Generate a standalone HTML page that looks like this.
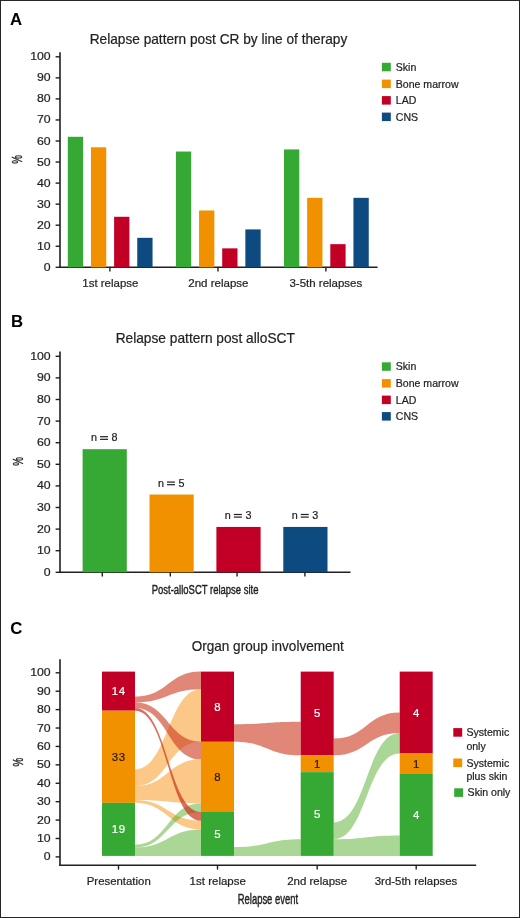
<!DOCTYPE html>
<html><head><meta charset="utf-8"><style>
html,body{margin:0;padding:0;background:#fff;}
body{width:520px;height:918px;overflow:hidden;position:relative;}
.frame{position:absolute;left:0;top:0;width:518px;height:916px;border:1px solid #262626;}
svg{position:absolute;left:0;top:0;will-change:transform;font-family:"Liberation Sans", sans-serif;}
</style></head><body>
<svg width="520" height="918" viewBox="0 0 520 918">
<text x="10.10" y="24.80" font-size="16.8" text-anchor="start" fill="#000" font-weight="bold"  >A</text>
<text x="89.68" y="43.70" font-size="13.9" fill="#231f20" textLength="257.65" lengthAdjust="spacingAndGlyphs" stroke="#231f20" stroke-width="0.22">Relapse pattern post CR by line of therapy</text>
<line x1="60.00" y1="52.20" x2="60.00" y2="268.10" stroke="#231f20" stroke-width="1.6"/>
<line x1="55.60" y1="267.30" x2="60.00" y2="267.30" stroke="#231f20" stroke-width="1.4"/>
<text transform="translate(50.7,270.80) scale(1.09,1)" font-size="11.3" text-anchor="end" fill="#231f20" stroke="#231f20" stroke-width="0.22">0</text>
<line x1="55.60" y1="246.25" x2="60.00" y2="246.25" stroke="#231f20" stroke-width="1.4"/>
<text transform="translate(50.7,249.75) scale(1.09,1)" font-size="11.3" text-anchor="end" fill="#231f20" stroke="#231f20" stroke-width="0.22">10</text>
<line x1="55.60" y1="225.20" x2="60.00" y2="225.20" stroke="#231f20" stroke-width="1.4"/>
<text transform="translate(50.7,228.70) scale(1.09,1)" font-size="11.3" text-anchor="end" fill="#231f20" stroke="#231f20" stroke-width="0.22">20</text>
<line x1="55.60" y1="204.15" x2="60.00" y2="204.15" stroke="#231f20" stroke-width="1.4"/>
<text transform="translate(50.7,207.65) scale(1.09,1)" font-size="11.3" text-anchor="end" fill="#231f20" stroke="#231f20" stroke-width="0.22">30</text>
<line x1="55.60" y1="183.10" x2="60.00" y2="183.10" stroke="#231f20" stroke-width="1.4"/>
<text transform="translate(50.7,186.60) scale(1.09,1)" font-size="11.3" text-anchor="end" fill="#231f20" stroke="#231f20" stroke-width="0.22">40</text>
<line x1="55.60" y1="162.05" x2="60.00" y2="162.05" stroke="#231f20" stroke-width="1.4"/>
<text transform="translate(50.7,165.55) scale(1.09,1)" font-size="11.3" text-anchor="end" fill="#231f20" stroke="#231f20" stroke-width="0.22">50</text>
<line x1="55.60" y1="141.00" x2="60.00" y2="141.00" stroke="#231f20" stroke-width="1.4"/>
<text transform="translate(50.7,144.50) scale(1.09,1)" font-size="11.3" text-anchor="end" fill="#231f20" stroke="#231f20" stroke-width="0.22">60</text>
<line x1="55.60" y1="119.95" x2="60.00" y2="119.95" stroke="#231f20" stroke-width="1.4"/>
<text transform="translate(50.7,123.45) scale(1.09,1)" font-size="11.3" text-anchor="end" fill="#231f20" stroke="#231f20" stroke-width="0.22">70</text>
<line x1="55.60" y1="98.90" x2="60.00" y2="98.90" stroke="#231f20" stroke-width="1.4"/>
<text transform="translate(50.7,102.40) scale(1.09,1)" font-size="11.3" text-anchor="end" fill="#231f20" stroke="#231f20" stroke-width="0.22">80</text>
<line x1="55.60" y1="77.85" x2="60.00" y2="77.85" stroke="#231f20" stroke-width="1.4"/>
<text transform="translate(50.7,81.35) scale(1.09,1)" font-size="11.3" text-anchor="end" fill="#231f20" stroke="#231f20" stroke-width="0.22">90</text>
<line x1="55.60" y1="56.80" x2="60.00" y2="56.80" stroke="#231f20" stroke-width="1.4"/>
<text transform="translate(50.7,60.30) scale(1.09,1)" font-size="11.3" text-anchor="end" fill="#231f20" stroke="#231f20" stroke-width="0.22">100</text>
<line x1="59.20" y1="267.30" x2="377.60" y2="267.30" stroke="#231f20" stroke-width="1.6"/>
<rect x="67.80" y="136.79" width="15.30" height="130.51" fill="#36a935" />
<rect x="90.95" y="147.31" width="15.30" height="119.99" fill="#f29100" />
<rect x="114.10" y="216.78" width="15.30" height="50.52" fill="#c20025" />
<rect x="137.25" y="237.83" width="15.30" height="29.47" fill="#0c4a80" />
<line x1="109.90" y1="267.30" x2="109.90" y2="271.60" stroke="#231f20" stroke-width="1.4"/>
<rect x="175.90" y="151.53" width="15.30" height="115.78" fill="#36a935" />
<rect x="199.05" y="210.47" width="15.30" height="56.84" fill="#f29100" />
<rect x="222.20" y="248.36" width="15.30" height="18.94" fill="#c20025" />
<rect x="245.35" y="229.41" width="15.30" height="37.89" fill="#0c4a80" />
<line x1="218.00" y1="267.30" x2="218.00" y2="271.60" stroke="#231f20" stroke-width="1.4"/>
<rect x="284.00" y="149.42" width="15.30" height="117.88" fill="#36a935" />
<rect x="307.15" y="197.84" width="15.30" height="69.47" fill="#f29100" />
<rect x="330.30" y="244.15" width="15.30" height="23.16" fill="#c20025" />
<rect x="353.45" y="197.84" width="15.30" height="69.47" fill="#0c4a80" />
<line x1="325.90" y1="267.30" x2="325.90" y2="271.60" stroke="#231f20" stroke-width="1.4"/>
<text x="82.33" y="286.80" font-size="11.3" fill="#231f20" textLength="56.08" lengthAdjust="spacingAndGlyphs" stroke="#231f20" stroke-width="0.22">1st relapse</text>
<text x="188.22" y="286.80" font-size="11.3" fill="#231f20" textLength="60.29" lengthAdjust="spacingAndGlyphs" stroke="#231f20" stroke-width="0.22">2nd relapse</text>
<text x="289.46" y="286.80" font-size="11.3" fill="#231f20" textLength="72.75" lengthAdjust="spacingAndGlyphs" stroke="#231f20" stroke-width="0.22">3-5th relapses</text>
<rect x="381.90" y="62.80" width="8.90" height="8.50" fill="#36a935" />
<text x="395.80" y="70.70" font-size="10.55" text-anchor="start" fill="#231f20" font-weight="normal" stroke="#231f20" stroke-width="0.22" >Skin</text>
<rect x="381.90" y="79.60" width="8.90" height="8.50" fill="#f29100" />
<text x="395.80" y="87.50" font-size="10.55" text-anchor="start" fill="#231f20" font-weight="normal" stroke="#231f20" stroke-width="0.22" >Bone marrow</text>
<rect x="381.90" y="96.10" width="8.90" height="8.50" fill="#c20025" />
<text x="395.80" y="104.00" font-size="10.55" text-anchor="start" fill="#231f20" font-weight="normal" stroke="#231f20" stroke-width="0.22" >LAD</text>
<rect x="381.90" y="112.60" width="8.90" height="8.50" fill="#0c4a80" />
<text x="395.80" y="120.50" font-size="10.55" text-anchor="start" fill="#231f20" font-weight="normal" stroke="#231f20" stroke-width="0.22" >CNS</text>
<text transform="translate(22.30,159.50) rotate(-90) scale(0.7,1)" x="0" y="0" font-size="14" text-anchor="middle" fill="#231f20" stroke="#231f20" stroke-width="0.4">%</text>
<text x="10.90" y="326.70" font-size="16.8" text-anchor="start" fill="#000" font-weight="bold"  >B</text>
<text x="115.67" y="343.40" font-size="13.9" fill="#231f20" textLength="179.23" lengthAdjust="spacingAndGlyphs" stroke="#231f20" stroke-width="0.22">Relapse pattern post alloSCT</text>
<line x1="60.00" y1="351.50" x2="60.00" y2="573.10" stroke="#231f20" stroke-width="1.6"/>
<line x1="55.60" y1="572.30" x2="60.00" y2="572.30" stroke="#231f20" stroke-width="1.4"/>
<text transform="translate(50.7,575.80) scale(1.09,1)" font-size="11.3" text-anchor="end" fill="#231f20" stroke="#231f20" stroke-width="0.22">0</text>
<line x1="55.60" y1="550.70" x2="60.00" y2="550.70" stroke="#231f20" stroke-width="1.4"/>
<text transform="translate(50.7,554.20) scale(1.09,1)" font-size="11.3" text-anchor="end" fill="#231f20" stroke="#231f20" stroke-width="0.22">10</text>
<line x1="55.60" y1="529.10" x2="60.00" y2="529.10" stroke="#231f20" stroke-width="1.4"/>
<text transform="translate(50.7,532.60) scale(1.09,1)" font-size="11.3" text-anchor="end" fill="#231f20" stroke="#231f20" stroke-width="0.22">20</text>
<line x1="55.60" y1="507.50" x2="60.00" y2="507.50" stroke="#231f20" stroke-width="1.4"/>
<text transform="translate(50.7,511.00) scale(1.09,1)" font-size="11.3" text-anchor="end" fill="#231f20" stroke="#231f20" stroke-width="0.22">30</text>
<line x1="55.60" y1="485.90" x2="60.00" y2="485.90" stroke="#231f20" stroke-width="1.4"/>
<text transform="translate(50.7,489.40) scale(1.09,1)" font-size="11.3" text-anchor="end" fill="#231f20" stroke="#231f20" stroke-width="0.22">40</text>
<line x1="55.60" y1="464.30" x2="60.00" y2="464.30" stroke="#231f20" stroke-width="1.4"/>
<text transform="translate(50.7,467.80) scale(1.09,1)" font-size="11.3" text-anchor="end" fill="#231f20" stroke="#231f20" stroke-width="0.22">50</text>
<line x1="55.60" y1="442.70" x2="60.00" y2="442.70" stroke="#231f20" stroke-width="1.4"/>
<text transform="translate(50.7,446.20) scale(1.09,1)" font-size="11.3" text-anchor="end" fill="#231f20" stroke="#231f20" stroke-width="0.22">60</text>
<line x1="55.60" y1="421.10" x2="60.00" y2="421.10" stroke="#231f20" stroke-width="1.4"/>
<text transform="translate(50.7,424.60) scale(1.09,1)" font-size="11.3" text-anchor="end" fill="#231f20" stroke="#231f20" stroke-width="0.22">70</text>
<line x1="55.60" y1="399.50" x2="60.00" y2="399.50" stroke="#231f20" stroke-width="1.4"/>
<text transform="translate(50.7,403.00) scale(1.09,1)" font-size="11.3" text-anchor="end" fill="#231f20" stroke="#231f20" stroke-width="0.22">80</text>
<line x1="55.60" y1="377.90" x2="60.00" y2="377.90" stroke="#231f20" stroke-width="1.4"/>
<text transform="translate(50.7,381.40) scale(1.09,1)" font-size="11.3" text-anchor="end" fill="#231f20" stroke="#231f20" stroke-width="0.22">90</text>
<line x1="55.60" y1="356.30" x2="60.00" y2="356.30" stroke="#231f20" stroke-width="1.4"/>
<text transform="translate(50.7,359.80) scale(1.09,1)" font-size="11.3" text-anchor="end" fill="#231f20" stroke="#231f20" stroke-width="0.22">100</text>
<line x1="59.20" y1="572.30" x2="350.50" y2="572.30" stroke="#231f20" stroke-width="1.6"/>
<rect x="82.60" y="449.18" width="44.20" height="123.12" fill="#36a935" />
<line x1="102.30" y1="572.30" x2="102.30" y2="576.50" stroke="#231f20" stroke-width="1.4"/>
<text x="91.00" y="441.48" font-size="10.8" text-anchor="start" fill="#231f20" font-weight="normal" stroke="#231f20" stroke-width="0.22" >n</text>
<rect x="100.05" y="436.13" width="8.00" height="1.20" fill="#231f20" />
<rect x="100.05" y="438.73" width="8.00" height="1.20" fill="#231f20" />
<text x="111.60" y="441.48" font-size="10.8" text-anchor="start" fill="#231f20" font-weight="normal" stroke="#231f20" stroke-width="0.22" >8</text>
<rect x="149.50" y="494.54" width="44.20" height="77.76" fill="#f29100" />
<line x1="170.30" y1="572.30" x2="170.30" y2="576.50" stroke="#231f20" stroke-width="1.4"/>
<text x="157.90" y="486.84" font-size="10.8" text-anchor="start" fill="#231f20" font-weight="normal" stroke="#231f20" stroke-width="0.22" >n</text>
<rect x="166.95" y="481.49" width="8.00" height="1.20" fill="#231f20" />
<rect x="166.95" y="484.09" width="8.00" height="1.20" fill="#231f20" />
<text x="178.50" y="486.84" font-size="10.8" text-anchor="start" fill="#231f20" font-weight="normal" stroke="#231f20" stroke-width="0.22" >5</text>
<rect x="216.40" y="526.94" width="44.20" height="45.36" fill="#c20025" />
<line x1="237.10" y1="572.30" x2="237.10" y2="576.50" stroke="#231f20" stroke-width="1.4"/>
<text x="224.80" y="519.24" font-size="10.8" text-anchor="start" fill="#231f20" font-weight="normal" stroke="#231f20" stroke-width="0.22" >n</text>
<rect x="233.85" y="513.89" width="8.00" height="1.20" fill="#231f20" />
<rect x="233.85" y="516.49" width="8.00" height="1.20" fill="#231f20" />
<text x="245.40" y="519.24" font-size="10.8" text-anchor="start" fill="#231f20" font-weight="normal" stroke="#231f20" stroke-width="0.22" >3</text>
<rect x="283.30" y="526.94" width="44.20" height="45.36" fill="#0c4a80" />
<line x1="304.90" y1="572.30" x2="304.90" y2="576.50" stroke="#231f20" stroke-width="1.4"/>
<text x="291.70" y="519.24" font-size="10.8" text-anchor="start" fill="#231f20" font-weight="normal" stroke="#231f20" stroke-width="0.22" >n</text>
<rect x="300.75" y="513.89" width="8.00" height="1.20" fill="#231f20" />
<rect x="300.75" y="516.49" width="8.00" height="1.20" fill="#231f20" />
<text x="312.30" y="519.24" font-size="10.8" text-anchor="start" fill="#231f20" font-weight="normal" stroke="#231f20" stroke-width="0.22" >3</text>
<text x="151.72" y="593.75" font-size="13.5" fill="#231f20" textLength="106.70" lengthAdjust="spacingAndGlyphs" stroke="#231f20" stroke-width="0.45">Post-alloSCT relapse site</text>
<rect x="381.90" y="362.30" width="8.90" height="8.50" fill="#36a935" />
<text x="395.80" y="370.20" font-size="10.55" text-anchor="start" fill="#231f20" font-weight="normal" stroke="#231f20" stroke-width="0.22" >Skin</text>
<rect x="381.90" y="379.10" width="8.90" height="8.50" fill="#f29100" />
<text x="395.80" y="387.00" font-size="10.55" text-anchor="start" fill="#231f20" font-weight="normal" stroke="#231f20" stroke-width="0.22" >Bone marrow</text>
<rect x="381.90" y="395.60" width="8.90" height="8.50" fill="#c20025" />
<text x="395.80" y="403.50" font-size="10.55" text-anchor="start" fill="#231f20" font-weight="normal" stroke="#231f20" stroke-width="0.22" >LAD</text>
<rect x="381.90" y="412.10" width="8.90" height="8.50" fill="#0c4a80" />
<text x="395.80" y="420.00" font-size="10.55" text-anchor="start" fill="#231f20" font-weight="normal" stroke="#231f20" stroke-width="0.22" >CNS</text>
<text transform="translate(22.70,461.50) rotate(-90) scale(0.7,1)" x="0" y="0" font-size="14" text-anchor="middle" fill="#231f20" stroke="#231f20" stroke-width="0.4">%</text>
<text x="10.30" y="634.30" font-size="16.8" text-anchor="start" fill="#000" font-weight="bold"  >C</text>
<text x="191.66" y="651.20" font-size="13.9" fill="#231f20" textLength="152.23" lengthAdjust="spacingAndGlyphs" stroke="#231f20" stroke-width="0.22">Organ group involvement</text>
<line x1="60.00" y1="659.20" x2="60.00" y2="866.10" stroke="#231f20" stroke-width="1.6"/>
<line x1="55.60" y1="856.90" x2="60.00" y2="856.90" stroke="#231f20" stroke-width="1.4"/>
<text transform="translate(50.7,860.40) scale(1.09,1)" font-size="11.3" text-anchor="end" fill="#231f20" stroke="#231f20" stroke-width="0.22">0</text>
<line x1="55.60" y1="838.49" x2="60.00" y2="838.49" stroke="#231f20" stroke-width="1.4"/>
<text transform="translate(50.7,841.99) scale(1.09,1)" font-size="11.3" text-anchor="end" fill="#231f20" stroke="#231f20" stroke-width="0.22">10</text>
<line x1="55.60" y1="820.08" x2="60.00" y2="820.08" stroke="#231f20" stroke-width="1.4"/>
<text transform="translate(50.7,823.58) scale(1.09,1)" font-size="11.3" text-anchor="end" fill="#231f20" stroke="#231f20" stroke-width="0.22">20</text>
<line x1="55.60" y1="801.67" x2="60.00" y2="801.67" stroke="#231f20" stroke-width="1.4"/>
<text transform="translate(50.7,805.17) scale(1.09,1)" font-size="11.3" text-anchor="end" fill="#231f20" stroke="#231f20" stroke-width="0.22">30</text>
<line x1="55.60" y1="783.26" x2="60.00" y2="783.26" stroke="#231f20" stroke-width="1.4"/>
<text transform="translate(50.7,786.76) scale(1.09,1)" font-size="11.3" text-anchor="end" fill="#231f20" stroke="#231f20" stroke-width="0.22">40</text>
<line x1="55.60" y1="764.85" x2="60.00" y2="764.85" stroke="#231f20" stroke-width="1.4"/>
<text transform="translate(50.7,768.35) scale(1.09,1)" font-size="11.3" text-anchor="end" fill="#231f20" stroke="#231f20" stroke-width="0.22">50</text>
<line x1="55.60" y1="746.44" x2="60.00" y2="746.44" stroke="#231f20" stroke-width="1.4"/>
<text transform="translate(50.7,749.94) scale(1.09,1)" font-size="11.3" text-anchor="end" fill="#231f20" stroke="#231f20" stroke-width="0.22">60</text>
<line x1="55.60" y1="728.03" x2="60.00" y2="728.03" stroke="#231f20" stroke-width="1.4"/>
<text transform="translate(50.7,731.53) scale(1.09,1)" font-size="11.3" text-anchor="end" fill="#231f20" stroke="#231f20" stroke-width="0.22">70</text>
<line x1="55.60" y1="709.62" x2="60.00" y2="709.62" stroke="#231f20" stroke-width="1.4"/>
<text transform="translate(50.7,713.12) scale(1.09,1)" font-size="11.3" text-anchor="end" fill="#231f20" stroke="#231f20" stroke-width="0.22">80</text>
<line x1="55.60" y1="691.21" x2="60.00" y2="691.21" stroke="#231f20" stroke-width="1.4"/>
<text transform="translate(50.7,694.71) scale(1.09,1)" font-size="11.3" text-anchor="end" fill="#231f20" stroke="#231f20" stroke-width="0.22">90</text>
<line x1="55.60" y1="672.80" x2="60.00" y2="672.80" stroke="#231f20" stroke-width="1.4"/>
<text transform="translate(50.7,676.30) scale(1.09,1)" font-size="11.3" text-anchor="end" fill="#231f20" stroke="#231f20" stroke-width="0.22">100</text>
<line x1="59.20" y1="865.30" x2="476.20" y2="865.30" stroke="#231f20" stroke-width="1.6"/>
<path d="M135.00,769.33 C168.00,769.33 168.00,689.15 201.00,689.15 L201.00,741.81 C168.00,741.81 168.00,786.09 135.00,786.09 Z" fill="#f9910f" fill-opacity="0.5"/>
<path d="M135.00,786.09 C168.00,786.09 168.00,759.36 201.00,759.36 L201.00,803.24 C168.00,803.24 168.00,800.05 135.00,800.05 Z" fill="#f9910f" fill-opacity="0.5"/>
<path d="M135.00,800.05 C168.00,800.05 168.00,820.80 201.00,820.80 L201.00,829.57 C168.00,829.57 168.00,802.84 135.00,802.84 Z" fill="#f9910f" fill-opacity="0.5"/>
<path d="M135.00,844.73 C168.00,844.73 168.00,803.24 201.00,803.24 L201.00,812.02 C168.00,812.02 168.00,847.52 135.00,847.52 Z" fill="#55af2d" fill-opacity="0.5"/>
<path d="M135.00,847.52 C168.00,847.52 168.00,829.57 201.00,829.57 L201.00,855.90 C168.00,855.90 168.00,855.90 135.00,855.90 Z" fill="#55af2d" fill-opacity="0.5"/>
<path d="M135.00,696.73 C168.00,696.73 168.00,671.60 201.00,671.60 L201.00,689.15 C168.00,689.15 168.00,702.32 135.00,702.32 Z" fill="#cb371e" fill-opacity="0.6"/>
<path d="M135.00,702.32 C168.00,702.32 168.00,741.81 201.00,741.81 L201.00,759.36 C168.00,759.36 168.00,707.90 135.00,707.90 Z" fill="#cb371e" fill-opacity="0.6"/>
<path d="M135.00,707.90 C168.00,707.90 168.00,812.02 201.00,812.02 L201.00,820.80 C168.00,820.80 168.00,710.69 135.00,710.69 Z" fill="#cb371e" fill-opacity="0.72"/>
<path d="M234.00,847.12 C267.35,847.12 267.35,839.15 300.70,839.15 L300.70,855.90 C267.35,855.90 267.35,855.90 234.00,855.90 Z" fill="#55af2d" fill-opacity="0.5"/>
<path d="M234.00,724.26 C267.35,724.26 267.35,721.86 300.70,721.86 L300.70,755.37 C267.35,755.37 267.35,741.81 234.00,741.81 Z" fill="#cb371e" fill-opacity="0.6"/>
<path d="M333.70,822.39 C366.70,822.39 366.70,733.03 399.70,733.03 L399.70,753.51 C366.70,753.51 366.70,839.15 333.70,839.15 Z" fill="#55af2d" fill-opacity="0.5"/>
<path d="M333.70,839.15 C366.70,839.15 366.70,835.42 399.70,835.42 L399.70,855.90 C366.70,855.90 366.70,855.90 333.70,855.90 Z" fill="#55af2d" fill-opacity="0.5"/>
<path d="M333.70,738.62 C366.70,738.62 366.70,712.56 399.70,712.56 L399.70,733.03 C366.70,733.03 366.70,755.37 333.70,755.37 Z" fill="#cb371e" fill-opacity="0.6"/>
<rect x="102.00" y="671.60" width="33.00" height="39.09" fill="#c20025" />
<text x="118.80" y="695.15" font-size="11.4" text-anchor="middle" fill="#fff" font-weight="normal" stroke="#fff" stroke-width="0.22" letter-spacing="0.6">14</text>
<rect x="102.00" y="710.69" width="33.00" height="92.15" fill="#f29100" />
<text x="118.80" y="760.77" font-size="11.4" text-anchor="middle" fill="#2a1a08" font-weight="normal" stroke="#2a1a08" stroke-width="0.22" letter-spacing="0.6">33</text>
<rect x="102.00" y="802.84" width="33.00" height="53.06" fill="#36a935" />
<text x="118.80" y="833.37" font-size="11.4" text-anchor="middle" fill="#fff" font-weight="normal" stroke="#fff" stroke-width="0.22" letter-spacing="0.6">19</text>
<line x1="118.50" y1="865.30" x2="118.50" y2="869.60" stroke="#231f20" stroke-width="1.4"/>
<rect x="201.00" y="671.60" width="33.00" height="70.21" fill="#c20025" />
<text x="217.80" y="710.70" font-size="11.4" text-anchor="middle" fill="#fff" font-weight="normal" stroke="#fff" stroke-width="0.22" letter-spacing="0.6">8</text>
<rect x="201.00" y="741.81" width="33.00" height="70.21" fill="#f29100" />
<text x="217.80" y="780.91" font-size="11.4" text-anchor="middle" fill="#2a1a08" font-weight="normal" stroke="#2a1a08" stroke-width="0.22" letter-spacing="0.6">8</text>
<rect x="201.00" y="812.02" width="33.00" height="43.88" fill="#36a935" />
<text x="217.80" y="837.96" font-size="11.4" text-anchor="middle" fill="#fff" font-weight="normal" stroke="#fff" stroke-width="0.22" letter-spacing="0.6">5</text>
<line x1="217.50" y1="865.30" x2="217.50" y2="869.60" stroke="#231f20" stroke-width="1.4"/>
<rect x="300.70" y="671.60" width="33.00" height="83.77" fill="#c20025" />
<text x="317.50" y="717.49" font-size="11.4" text-anchor="middle" fill="#fff" font-weight="normal" stroke="#fff" stroke-width="0.22" letter-spacing="0.6">5</text>
<rect x="300.70" y="755.37" width="33.00" height="16.75" fill="#f29100" />
<text x="317.50" y="767.75" font-size="11.4" text-anchor="middle" fill="#2a1a08" font-weight="normal" stroke="#2a1a08" stroke-width="0.22" letter-spacing="0.6">1</text>
<rect x="300.70" y="772.13" width="33.00" height="83.77" fill="#36a935" />
<text x="317.50" y="818.01" font-size="11.4" text-anchor="middle" fill="#fff" font-weight="normal" stroke="#fff" stroke-width="0.22" letter-spacing="0.6">5</text>
<line x1="317.20" y1="865.30" x2="317.20" y2="869.60" stroke="#231f20" stroke-width="1.4"/>
<rect x="399.70" y="671.60" width="33.00" height="81.91" fill="#c20025" />
<text x="416.50" y="716.56" font-size="11.4" text-anchor="middle" fill="#fff" font-weight="normal" stroke="#fff" stroke-width="0.22" letter-spacing="0.6">4</text>
<rect x="399.70" y="753.51" width="33.00" height="20.48" fill="#f29100" />
<text x="416.50" y="767.75" font-size="11.4" text-anchor="middle" fill="#2a1a08" font-weight="normal" stroke="#2a1a08" stroke-width="0.22" letter-spacing="0.6">1</text>
<rect x="399.70" y="773.99" width="33.00" height="81.91" fill="#36a935" />
<text x="416.50" y="818.94" font-size="11.4" text-anchor="middle" fill="#fff" font-weight="normal" stroke="#fff" stroke-width="0.22" letter-spacing="0.6">4</text>
<line x1="416.20" y1="865.30" x2="416.20" y2="869.60" stroke="#231f20" stroke-width="1.4"/>
<text x="86.77" y="884.70" font-size="11.3" fill="#231f20" textLength="63.96" lengthAdjust="spacingAndGlyphs" stroke="#231f20" stroke-width="0.22">Presentation</text>
<text x="189.63" y="884.70" font-size="11.3" fill="#231f20" textLength="56.29" lengthAdjust="spacingAndGlyphs" stroke="#231f20" stroke-width="0.22">1st relapse</text>
<text x="287.23" y="884.70" font-size="11.3" fill="#231f20" textLength="59.98" lengthAdjust="spacingAndGlyphs" stroke="#231f20" stroke-width="0.22">2nd relapse</text>
<text x="374.77" y="884.70" font-size="11.3" fill="#231f20" textLength="82.55" lengthAdjust="spacingAndGlyphs" stroke="#231f20" stroke-width="0.22">3rd-5th relapses</text>
<text x="237.73" y="904.20" font-size="13.8" fill="#231f20" textLength="60.34" lengthAdjust="spacingAndGlyphs" stroke="#231f20" stroke-width="0.45">Relapse event</text>
<rect x="453.30" y="728.10" width="8.90" height="8.60" fill="#c20025" />
<text x="466.40" y="736.20" font-size="10.55" text-anchor="start" fill="#231f20" font-weight="normal" stroke="#231f20" stroke-width="0.22" >Systemic</text>
<text x="466.40" y="749.50" font-size="10.55" text-anchor="start" fill="#231f20" font-weight="normal" stroke="#231f20" stroke-width="0.22" >only</text>
<rect x="453.30" y="758.50" width="8.90" height="8.60" fill="#f29100" />
<text x="466.40" y="766.60" font-size="10.55" text-anchor="start" fill="#231f20" font-weight="normal" stroke="#231f20" stroke-width="0.22" >Systemic</text>
<text x="466.40" y="779.90" font-size="10.55" text-anchor="start" fill="#231f20" font-weight="normal" stroke="#231f20" stroke-width="0.22" >plus skin</text>
<rect x="454.20" y="788.30" width="8.90" height="8.60" fill="#36a935" />
<text x="467.60" y="796.40" font-size="10.55" text-anchor="start" fill="#231f20" font-weight="normal" stroke="#231f20" stroke-width="0.22" >Skin only</text>
<text transform="translate(22.50,762.20) rotate(-90) scale(0.7,1)" x="0" y="0" font-size="14" text-anchor="middle" fill="#231f20" stroke="#231f20" stroke-width="0.4">%</text>
</svg>
<div class="frame"></div>
</body></html>
